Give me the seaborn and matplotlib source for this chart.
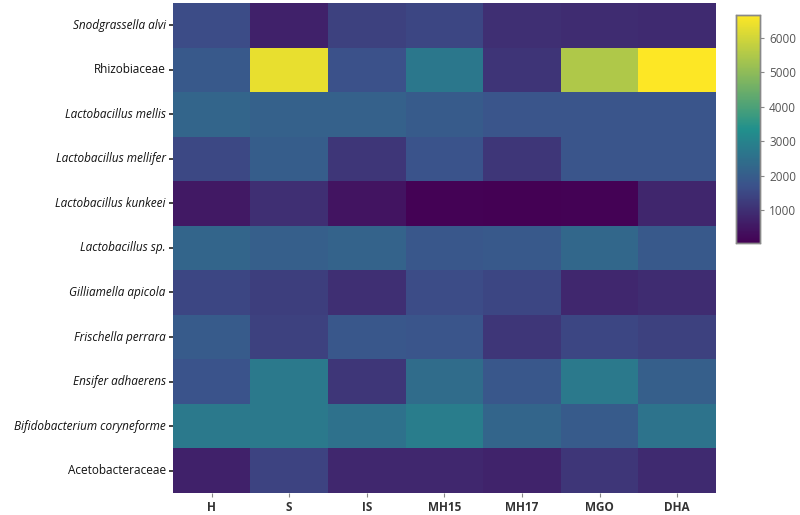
import numpy as np
import pandas as pd
import matplotlib
matplotlib.use("Agg")
import matplotlib.pyplot as plt
from matplotlib.colors import LinearSegmentedColormap
import seaborn as sns

treatments = ["H", "S", "IS", "MH15", "MH17", "MGO", "DHA"]
taxa = ["Snodgrassella alvi", "Rhizobiaceae", "Lactobacillus mellis",
        "Lactobacillus mellifer", "Lactobacillus kunkeei", "Lactobacillus sp.",
        "Gilliamella apicola", "Frischella perrara", "Ensifer adhaerens",
        "Bifidobacterium coryneforme", "Acetobacteraceae"]
italic_taxa = [True, False, True, True, True, True, True, True, True, True, False]

snodgrassella = [1600, 700, 1350, 1450, 1000, 950, 900]
rhizobiaceae = [1900, 6350, 1700, 2700, 1100, 5500, 6670]
l_mellis = [2200, 2100, 2100, 1950, 1800, 1800, 1800]
l_mellifer = [1500, 2000, 1150, 1750, 1150, 1800, 1800]
l_kunkeei = [550, 1000, 450, 100, 50, 90, 800]
l_sp = [2200, 2050, 2150, 1850, 1900, 2250, 1900]
gilliamella = [1450, 1300, 1000, 1600, 1450, 850, 950]
frischella = [1950, 1350, 1850, 1800, 1150, 1450, 1350]
ensifer = [1750, 2750, 1150, 2400, 1850, 2750, 2050]
bifido = [2750, 2750, 2550, 2850, 2200, 1950, 2600]
acetobacteraceae = [700, 1400, 850, 850, 750, 1150, 900]

rows = [snodgrassella, rhizobiaceae, l_mellis, l_mellifer, l_kunkeei, l_sp,
        gilliamella, frischella, ensifer, bifido, acetobacteraceae]
df = pd.DataFrame(rows, index=taxa, columns=treatments)

cmap = LinearSegmentedColormap.from_list(
    "vir", [(0.0, "#440154"), (0.25, "#3b528b"), (0.5, "#21908c"), (1.0, "#fde725")])

sns.set_theme(style="white")
plt.rcParams['font.family'] = ['Open Sans', 'DejaVu Sans']

fig = plt.figure(figsize=(8, 5.15), dpi=100)
ax = fig.add_axes([0.216, 0.043, 0.679, 0.951])
cax = fig.add_axes([0.92, 0.528, 0.03, 0.443])

sns.heatmap(df, ax=ax, cmap=cmap, cbar_ax=cax,
            cbar_kws={"ticks": [1000, 2000, 3000, 4000, 5000, 6000]})

ax.set_xlabel("")
ax.set_ylabel("")
ax.tick_params(axis="y", length=3, width=1.2, color="#222222", pad=2, labelsize=8.5)
ax.tick_params(axis="x", length=3, width=0.8, color="#888888", pad=3, labelsize=8.5)
ax.tick_params(left=True, bottom=True)
for lab, it in zip(ax.get_yticklabels(), italic_taxa):
    lab.set_fontstyle("italic" if it else "normal")
    lab.set_color("#111111")
    lab.set_rotation(0)
for lab in ax.get_xticklabels():
    lab.set_fontweight("bold")
    lab.set_color("#333333")
    lab.set_rotation(0)

cax.tick_params(length=3, width=0.8, color="#888888", labelsize=8.5, labelcolor="#555555", right=True)
for s in cax.spines.values():
    s.set_visible(True)
    s.set_edgecolor("#888888")
    s.set_linewidth(1)

fig.savefig("out.png", dpi=100, facecolor="white")
